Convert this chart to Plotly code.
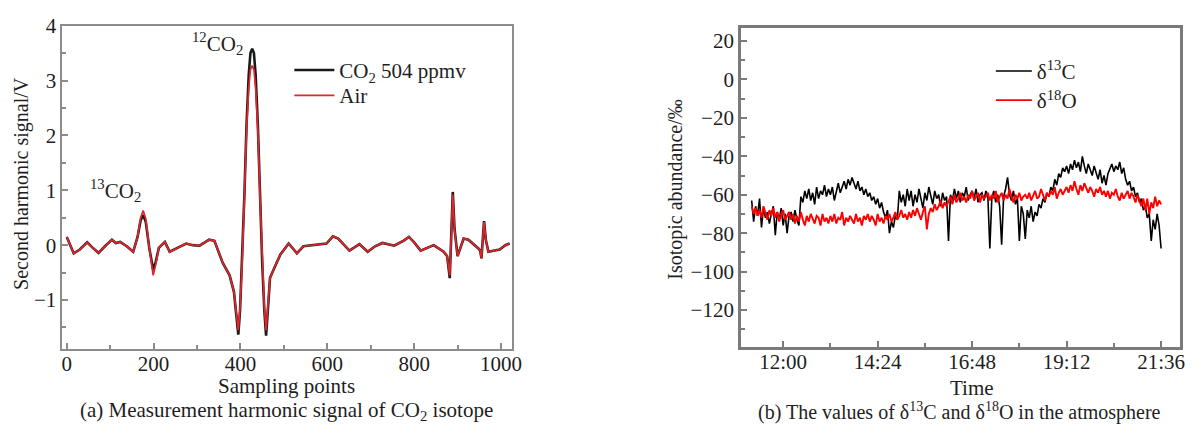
import plotly.graph_objects as go

# ---------------- (a) harmonic signal ----------------
sample_points = [0, 5, 16, 30, 47, 60, 73, 88, 104, 113, 123, 138, 153, 163, 170, 176, 182, 190, 199, 205,
                 212, 226, 237, 255, 275, 290, 306, 328, 340, 359, 375, 385, 390, 395, 399, 404, 409, 414, 419,
                 423, 427, 431, 435, 440, 445, 450, 455, 459, 463, 468, 480, 492, 511, 530, 545, 572, 598, 613,
                 625, 651, 674, 693, 710, 727, 754, 775, 788, 800, 815, 845, 868, 876, 882, 886, 889, 893, 900,
                 914, 925, 948, 952, 955, 958, 961, 965, 971, 997, 1010, 1020]
co2_504 = [0.15, 0.05, -0.15, -0.08, 0.05, -0.05, -0.14, -0.02, 0.10, 0.04, 0.06, -0.02, -0.12, 0.15, 0.45,
           0.55, 0.42, -0.05, -0.45, -0.30, -0.05, 0.06, -0.12, -0.05, 0.03, 0.00, -0.01, 0.10, 0.08, -0.32,
           -0.55, -0.85, -1.28, -1.63, -1.20, -0.30, 0.90, 2.20, 3.10, 3.50, 3.58, 3.50, 3.10, 2.20, 0.90,
           -0.30, -1.20, -1.65, -1.20, -0.60, -0.38, -0.17, 0.03, -0.15, -0.02, 0.00, 0.03, 0.16, 0.12, -0.10,
           0.02, -0.12, -0.02, 0.04, -0.01, 0.08, 0.15, 0.05, -0.10, 0.00, -0.12, -0.20, -0.60, 0.30, 0.97,
           0.30, -0.20, 0.12, 0.10, -0.06, -0.10, -0.24, 0.20, 0.44, 0.10, -0.12, -0.08, 0.00, 0.03]
air = [0.15, 0.05, -0.15, -0.08, 0.05, -0.05, -0.14, -0.02, 0.10, 0.04, 0.06, -0.02, -0.12, 0.15, 0.50,
       0.63, 0.48, -0.05, -0.55, -0.35, -0.05, 0.06, -0.12, -0.05, 0.03, 0.00, -0.01, 0.10, 0.08, -0.32,
       -0.55, -0.85, -1.23, -1.55, -1.15, -0.30, 0.88, 2.10, 2.85, 3.20, 3.27, 3.20, 2.85, 2.10, 0.88,
       -0.30, -1.15, -1.55, -1.15, -0.60, -0.38, -0.17, 0.03, -0.15, -0.02, 0.00, 0.03, 0.16, 0.12, -0.10,
       0.02, -0.12, -0.02, 0.04, -0.01, 0.08, 0.15, 0.05, -0.10, 0.00, -0.12, -0.20, -0.55, 0.28, 0.92,
       0.28, -0.20, 0.12, 0.10, -0.06, -0.10, -0.24, 0.20, 0.42, 0.10, -0.12, -0.08, 0.00, 0.03]

# ---------------- (b) isotopic abundance ----------------
start_minute = 672   # 11:12
step_minutes = 3
delta13C = [
    -63, -74, -66, -71, -62, -77, -67, -72, -69, -75, -70, -66, -81, -69, -73, -67, -76, -70, -80, -71,
    -69, -74, -68, -73, -76, -61, -64, -58, -62, -57, -63, -59, -65, -56, -62, -58, -60, -55, -61, -57,
    -60, -56, -63, -58, -54, -59, -56, -53, -57, -52, -55, -51, -54, -57, -53, -58, -56, -60, -57, -61,
    -59, -63, -61, -65, -62, -67, -64, -69, -72, -68, -80, -74, -77, -71, -73, -58, -64, -60, -66, -57,
    -63, -58, -66, -60, -64, -57, -62, -67, -59, -63, -56, -61, -65, -58, -62, -60, -66, -59, -63, -61,
    -84, -60, -63, -57, -62, -58, -64, -59, -61, -56, -63, -60, -58, -62, -57, -64, -60, -59, -63, -58,
    -61, -88, -62, -58, -64, -60, -66, -86, -61, -57, -51, -60, -63, -58, -65, -62, -84, -66, -70, -83,
    -68, -72, -66, -74, -69, -71, -65, -67, -62, -64, -59, -61, -56, -58, -52, -55, -49, -51, -46, -48,
    -45, -49, -44, -47, -42, -46, -43, -48, -40, -45, -49, -44, -47, -50, -45, -48, -52, -47, -54, -50,
    -55, -49, -46, -44, -48, -45, -47, -43, -49, -46, -52, -55, -53, -58, -56, -61, -59, -64, -62, -68,
    -66, -72, -70, -84, -73, -78, -70, -76, -88]
delta18O = [
    -66, -70, -67, -71, -68, -72, -66, -70, -73, -68, -71, -67, -72, -69, -74, -70, -68, -73, -71, -69,
    -73, -70, -75, -71, -74, -69, -73, -76, -71, -74, -70, -73, -75, -71, -72, -76, -70, -74, -72, -75,
    -71, -74, -70, -75, -72, -73, -69, -76, -72, -74, -71, -73, -75, -70, -74, -72, -76, -71, -73, -70,
    -74, -71, -73, -76, -70, -74, -72, -75, -71, -73, -70, -74, -72, -69, -73, -71, -68, -72, -70, -73,
    -69, -72, -68, -71, -67, -70, -73, -69, -66, -78, -70, -67, -69, -65, -68, -66, -63, -67, -64, -66,
    -63, -61, -65, -60, -64, -62, -59, -63, -61, -64, -60, -62, -58, -63, -61, -59, -64, -60, -62, -61,
    -59, -63, -60, -62, -58, -64, -61, -59, -63, -60, -62, -57, -61, -64, -60, -62, -59, -63, -61, -60,
    -62, -59, -63, -60, -58, -62, -61, -57, -60, -63, -59, -61, -58, -60, -56, -62, -59, -57, -60, -58,
    -56, -59, -55, -58, -53, -57, -60, -55, -58, -54, -57, -59, -56, -58, -61, -57, -59, -56, -60, -58,
    -61, -58, -62, -59, -60, -57, -61, -63, -59, -62, -60, -58, -62, -59, -61, -64, -60, -63, -66, -62,
    -68, -62, -70, -64, -67, -61, -66, -63, -65]
time_tick_labels = ["12:00", "14:24", "16:48", "19:12", "21:36"]


def to_minutes(label):
    h, m = label.split(":")
    return int(h) * 60 + int(m)


t13 = [start_minute + step_minutes * i for i in range(len(delta13C))]
t18 = [start_minute + step_minutes * i for i in range(len(delta18O))]
time_tick_vals = [to_minutes(s) for s in time_tick_labels]

FONT = "Liberation Serif"
W, H = 1202, 436
TXT = "#1e1e1e"

fig = go.Figure()
fig.add_trace(go.Scatter(x=sample_points, y=co2_504, mode="lines", name="CO<sub>2</sub> 504 ppmv",
                         line=dict(color="#1a1a1a", width=2.6), xaxis="x", yaxis="y",
                         legend="legend", showlegend=True))
fig.add_trace(go.Scatter(x=sample_points, y=air, mode="lines", name="Air",
                         line=dict(color="#e0262b", width=1.7), xaxis="x", yaxis="y",
                         legend="legend3", showlegend=True))
fig.add_trace(go.Scatter(x=t13, y=delta13C, mode="lines", name="δ<sup>13</sup>C",
                         line=dict(color="black", width=1.6), xaxis="x2", yaxis="y2",
                         legend="legend2", showlegend=True))
fig.add_trace(go.Scatter(x=t18, y=delta18O, mode="lines", name="δ<sup>18</sup>O",
                         line=dict(color="#ff0000", width=1.9), xaxis="x2", yaxis="y2",
                         legend="legend4", showlegend=True))


def px_x(p):
    return p / W


def px_y(p):
    return 1 - p / H


ax_common = dict(showline=True, mirror=True, ticks="inside", showgrid=False, zeroline=False,
                 tickfont=dict(family=FONT, size=21, color=TXT))


def legend_at(x, y, width):
    return dict(x=px_x(x), y=px_y(y), xanchor="left", yanchor="middle", visible=True,
                font=dict(family=FONT, size=21, color=TXT), bgcolor="rgba(0,0,0,0)",
                tracegroupgap=0, itemwidth=width)


fig.update_layout(
    width=W, height=H, margin=dict(l=0, r=0, t=0, b=0),
    paper_bgcolor="white", plot_bgcolor="white", showlegend=True,
    font=dict(family=FONT, color=TXT),
    xaxis=dict(domain=[px_x(62), px_x(516)], range=[-10, 1026], tick0=0, dtick=200,
               linecolor="#8c8c8c", linewidth=2, tickcolor="#8c8c8c", ticklen=6, tickwidth=1.5,
               minor=dict(ticks="inside", dtick=100, ticklen=4, tickcolor="#8c8c8c"),
               ticklabelstandoff=-6, anchor="y", **ax_common),
    yaxis=dict(domain=[px_y(347), px_y(14)], range=[-1.9, 4], tick0=0, dtick=1,
               linecolor="#8c8c8c", linewidth=2, tickcolor="#8c8c8c", ticklen=6, tickwidth=1.5,
               minor=dict(ticks="inside", dtick=0.5, ticklen=4, tickcolor="#8c8c8c"),
               anchor="x", **ax_common),
    xaxis2=dict(domain=[px_x(747), px_x(1190)], range=[656, 1325], tickmode="array",
                tickvals=time_tick_vals, ticktext=time_tick_labels,
                linecolor="#7a7a7a", linewidth=3, tickcolor="#7a7a7a", ticklen=6, tickwidth=1.5,
                minor=dict(ticks="inside", tick0=720, dtick=72, ticklen=4, tickcolor="#7a7a7a"),
                ticklabelstandoff=-6, anchor="y2", **ax_common),
    yaxis2=dict(domain=[px_y(344), px_y(16)], range=[-139, 27], tick0=0, dtick=20,
                linecolor="#7a7a7a", linewidth=3, tickcolor="#7a7a7a", ticklen=6, tickwidth=1.5,
                minor=dict(ticks="inside", dtick=10, ticklen=4, tickcolor="#7a7a7a"),
                anchor="x2", **ax_common),
    legend=legend_at(291, 60, 40),
    legend3=legend_at(291, 86, 40),
    legend2=legend_at(999, 61, 36),
    legend4=legend_at(999, 91, 36),
)

annotations = [
    dict(text="<sup>12</sup>CO<sub>2</sub>", x=px_x(218), y=px_y(32), size=21),
    dict(text="<sup>13</sup>CO<sub>2</sub>", x=px_x(116), y=px_y(184), size=21),
    dict(text="Sampling points", x=px_x(288), y=px_y(385), size=21),
    dict(text="(a) Measurement harmonic signal of CO<sub>2</sub> isotope", x=px_x(288), y=px_y(410), size=21),
    dict(text="Time", x=px_x(980), y=px_y(387), size=21),
    dict(text="(b) The values of δ<sup>13</sup>C and δ<sup>18</sup>O in the atmosphere", x=px_x(967), y=px_y(411), size=20),
]
for a in annotations:
    fig.add_annotation(text=a["text"], x=a["x"], y=a["y"], xref="paper", yref="paper",
                       showarrow=False, xanchor="center", yanchor="middle",
                       font=dict(family=FONT, size=a["size"], color=TXT))
fig.add_annotation(text="Second harmonic signal/V", x=px_x(20), y=px_y(176), xref="paper", yref="paper",
                   showarrow=False, textangle=-90, xanchor="center", yanchor="middle",
                   font=dict(family=FONT, size=20, color=TXT))
fig.add_annotation(text="Isotopic abundance/‰", x=px_x(681), y=px_y(182), xref="paper", yref="paper",
                   showarrow=False, textangle=-90, xanchor="center", yanchor="middle",
                   font=dict(family=FONT, size=20, color=TXT))

fig.write_html("out.html")
